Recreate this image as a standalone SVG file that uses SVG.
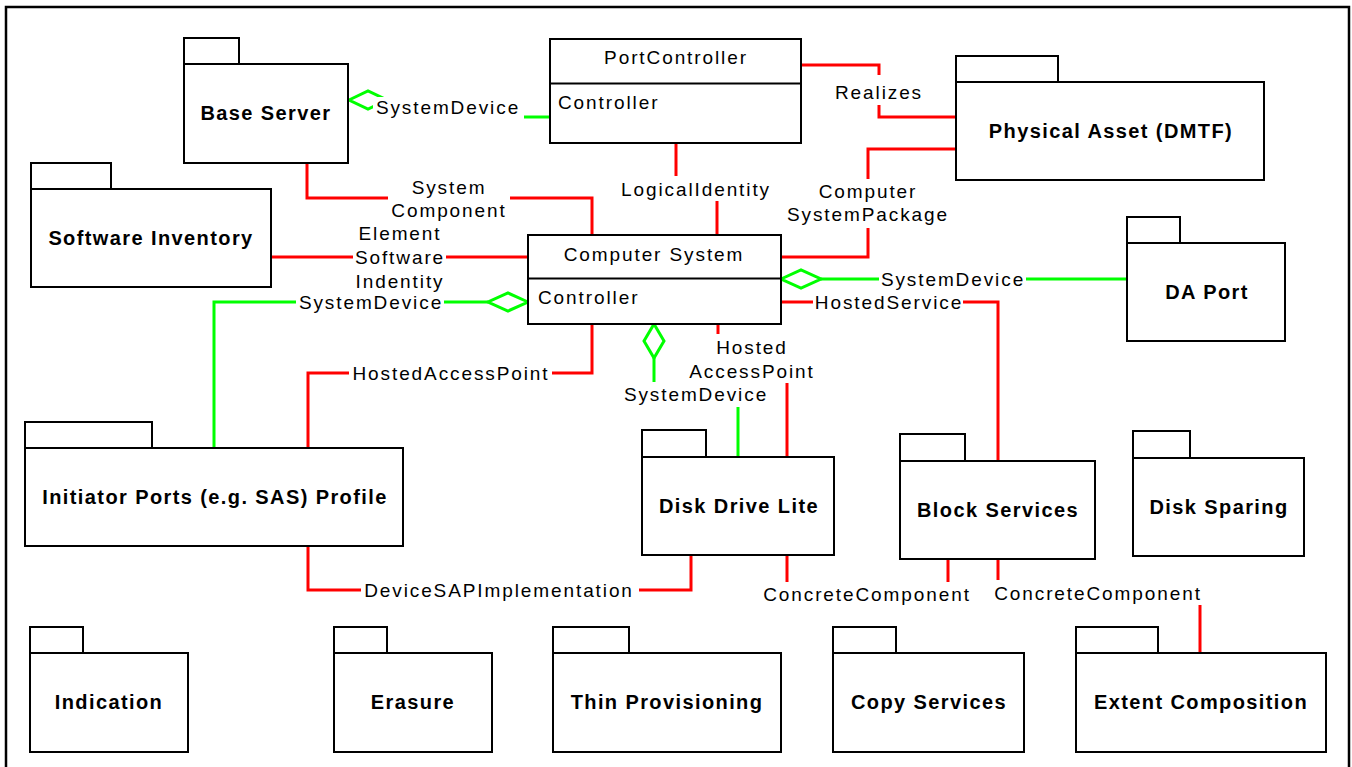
<svg xmlns="http://www.w3.org/2000/svg" width="1352" height="767" viewBox="0 0 1352 767">
<style>
.box{fill:#fff;stroke:#000;stroke-width:2}
.nl{font-family:"Liberation Sans",Arial,sans-serif;font-size:20px;font-weight:bold;letter-spacing:1.4px;text-anchor:middle;dominant-baseline:central;fill:#000}
.cl{font-family:"Liberation Sans",Arial,sans-serif;font-size:19px;letter-spacing:1.9px;dominant-baseline:central;fill:#000}
.lb{font-family:"Liberation Sans",Arial,sans-serif;font-size:19px;letter-spacing:1.9px;text-anchor:middle;dominant-baseline:central;fill:#000}
.r{fill:none;stroke:#ff0000;stroke-width:3}
.g{fill:none;stroke:#00ff00;stroke-width:3}
.gd{fill:#fff;stroke:#00ff00;stroke-width:3}
</style>
<rect x="0" y="0" width="1352" height="767" fill="#fff"/>
<rect x="6" y="7" width="1343" height="800" fill="none" stroke="#000" stroke-width="2.5"/>

<g id="connectors">
  <!-- Realizes -->
  <polyline class="r" points="802,65 879,65 879,75"/>
  <polyline class="r" points="879,105 879,117 956,117"/>
  <text class="lb" x="879" y="92">Realizes</text>
  <!-- ComputerSystemPackage -->
  <polyline class="r" points="956,149 868,149 868,179"/>
  <polyline class="r" points="868,228 868,257 781,257"/>
  <text class="lb" x="868" y="191">Computer</text>
  <text class="lb" x="868" y="214">SystemPackage</text>
  <!-- LogicalIdentity -->
  <polyline class="r" points="676,143 676,176"/>
  <polyline class="r" points="717,201 717,235"/>
  <text class="lb" x="696" y="189">LogicalIdentity</text>
  <!-- SystemComponent -->
  <polyline class="r" points="307,163 307,198 388,198"/>
  <polyline class="r" points="510,198 592,198 592,235"/>
  <text class="lb" x="449" y="187">System</text>
  <text class="lb" x="449" y="210">Component</text>
  <!-- ElementSoftwareIndentity -->
  <polyline class="r" points="271,257 353,257"/>
  <polyline class="r" points="446,257 528,257"/>
  <text class="lb" x="400" y="233">Element</text>
  <text class="lb" x="400" y="257">Software</text>
  <text class="lb" x="400" y="281">Indentity</text>
  <!-- HostedAccessPoint to Initiator -->
  <polyline class="r" points="592,324 592,373 552,373"/>
  <polyline class="r" points="349,373 308,373 308,448"/>
  <text class="lb" x="451" y="373">HostedAccessPoint</text>
  <!-- HostedService -->
  <polyline class="r" points="781,302 813,302"/>
  <polyline class="r" points="963,302 998,302 998,461"/>
  <text class="lb" x="889" y="302">HostedService</text>
  <!-- Hosted AccessPoint to Disk Drive Lite -->
  <polyline class="r" points="718,324 718,334"/>
  <polyline class="r" points="787,383 787,457"/>
  <text class="lb" x="752" y="347">Hosted</text>
  <text class="lb" x="752" y="371">AccessPoint</text>
  <!-- DeviceSAPImplementation -->
  <polyline class="r" points="308,547 308,590 361,590"/>
  <polyline class="r" points="639,590 691,590 691,555"/>
  <text class="lb" x="499" y="590">DeviceSAPImplementation</text>
  <!-- ConcreteComponent DDL-BS -->
  <polyline class="r" points="787,555 787,582"/>
  <polyline class="r" points="948,559 948,582"/>
  <text class="lb" x="867" y="594">ConcreteComponent</text>
  <!-- ConcreteComponent BS-EC -->
  <polyline class="r" points="998,559 998,580"/>
  <polyline class="r" points="1200,605 1200,653"/>
  <text class="lb" x="1098" y="593">ConcreteComponent</text>

  <!-- SystemDevice Base Server - PortController -->
  <polygon class="gd" points="349,100 368,91 387,100 368,109"/>
  <rect x="373" y="97" width="150" height="21" fill="#fff"/>
  <polyline class="g" points="524,117 550,117"/>
  <text class="lb" x="448" y="107">SystemDevice</text>
  <!-- SystemDevice CS - DA Port -->
  <polyline class="g" points="821,279 879,279"/>
  <polyline class="g" points="1026,279 1127,279"/>
  <polygon class="gd" points="781,279 801,270 821,279 801,288"/>
  <text class="lb" x="953" y="279">SystemDevice</text>
  <!-- SystemDevice CS - Initiator -->
  <polyline class="g" points="488,302 444,302"/>
  <polyline class="g" points="296,302 214,302 214,448"/>
  <polygon class="gd" points="528,302 508,293 488,302 508,311"/>
  <text class="lb" x="371" y="302">SystemDevice</text>
  <!-- SystemDevice CS - Disk Drive Lite -->
  <polyline class="g" points="654,358 654,382"/>
  <polyline class="g" points="738,407 738,457"/>
  <polygon class="gd" points="654,324 664,341 654,358 644,341"/>
  <text class="lb" x="696" y="394">SystemDevice</text>
</g>

<g id="base-server">
  <rect class="box" x="184" y="38" width="55" height="26"/>
  <rect class="box" x="184" y="64" width="164" height="99"/>
  <text class="nl" x="266" y="113">Base Server</text>
</g>
<g id="port-controller">
  <rect class="box" x="550" y="39" width="251" height="104"/>
  <line x1="550" y1="83.5" x2="801" y2="83.5" stroke="#000" stroke-width="2"/>
  <text class="lb" x="676" y="57">PortController</text>
  <text class="cl" x="558" y="102">Controller</text>
</g>
<g id="physical-asset">
  <rect class="box" x="956" y="56" width="102" height="26"/>
  <rect class="box" x="956" y="82" width="308" height="98"/>
  <text class="nl" x="1111" y="131">Physical Asset (DMTF)</text>
</g>
<g id="software-inventory">
  <rect class="box" x="31" y="163" width="80" height="26"/>
  <rect class="box" x="31" y="189" width="240" height="98"/>
  <text class="nl" x="151" y="238">Software Inventory</text>
</g>
<g id="computer-system">
  <rect class="box" x="528" y="235" width="253" height="89"/>
  <line x1="528" y1="278.5" x2="781" y2="278.5" stroke="#000" stroke-width="2"/>
  <text class="lb" x="654" y="254">Computer System</text>
  <text class="cl" x="538" y="297">Controller</text>
</g>
<g id="da-port">
  <rect class="box" x="1127" y="217" width="53" height="26"/>
  <rect class="box" x="1127" y="243" width="158" height="98"/>
  <text class="nl" x="1207" y="292">DA Port</text>
</g>
<g id="initiator-ports">
  <rect class="box" x="25" y="422" width="127" height="26"/>
  <rect class="box" x="25" y="448" width="378" height="98"/>
  <text class="nl" x="215" y="497">Initiator Ports (e.g. SAS) Profile</text>
</g>
<g id="disk-drive-lite">
  <rect class="box" x="642" y="430" width="64" height="27"/>
  <rect class="box" x="642" y="457" width="192" height="98"/>
  <text class="nl" x="739" y="506">Disk Drive Lite</text>
</g>
<g id="block-services">
  <rect class="box" x="900" y="434" width="65" height="27"/>
  <rect class="box" x="900" y="461" width="195" height="98"/>
  <text class="nl" x="998" y="510">Block Services</text>
</g>
<g id="disk-sparing">
  <rect class="box" x="1133" y="431" width="57" height="27"/>
  <rect class="box" x="1133" y="458" width="171" height="98"/>
  <text class="nl" x="1219" y="507">Disk Sparing</text>
</g>
<g id="indication">
  <rect class="box" x="30" y="627" width="53" height="26"/>
  <rect class="box" x="30" y="653" width="158" height="99"/>
  <text class="nl" x="109" y="702">Indication</text>
</g>
<g id="erasure">
  <rect class="box" x="334" y="627" width="53" height="26"/>
  <rect class="box" x="334" y="653" width="158" height="99"/>
  <text class="nl" x="413" y="702">Erasure</text>
</g>
<g id="thin-provisioning">
  <rect class="box" x="553" y="627" width="76" height="26"/>
  <rect class="box" x="553" y="653" width="228" height="99"/>
  <text class="nl" x="667" y="702">Thin Provisioning</text>
</g>
<g id="copy-services">
  <rect class="box" x="833" y="627" width="63" height="26"/>
  <rect class="box" x="833" y="653" width="191" height="99"/>
  <text class="nl" x="929" y="702">Copy Services</text>
</g>
<g id="extent-composition">
  <rect class="box" x="1076" y="627" width="82" height="26"/>
  <rect class="box" x="1076" y="653" width="250" height="99"/>
  <text class="nl" x="1201" y="702">Extent Composition</text>
</g>
</svg>
